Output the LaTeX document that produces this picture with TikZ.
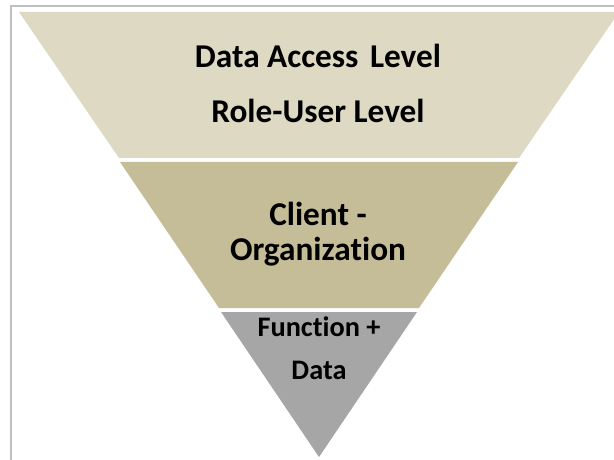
\documentclass[tikz,border=0pt]{standalone}
\usepackage{fontspec}
\setmainfont[Ligatures=NoCommon]{Carlito}
\definecolor{bandA}{HTML}{DDD9C3}
\definecolor{bandB}{HTML}{C4BD97}
\definecolor{bandC}{HTML}{A6A6A6}
\definecolor{framec}{HTML}{BFBFBF}
\begin{document}
\begin{tikzpicture}[x=1bp,y=-1bp,
  lbl/.style={anchor=base,inner sep=0pt,font=\bfseries\fontsize{33.4}{38}\selectfont,text=black},
  lbls/.style={anchor=base,inner sep=0pt,font=\bfseries\fontsize{28.4}{33}\selectfont,text=black}]
\useasboundingbox (0,0) rectangle (614,460);
\clip (0,0) rectangle (614,460);
\fill[white] (0,0) rectangle (614,460);
\draw[framec,line width=2bp] (11,6) rectangle (700,600);
\fill[bandA] (19,12) -- (619,12) -- (519,158) -- (119,158) -- cycle;
\fill[bandB] (120,162) -- (518,162) -- (419,308) -- (219,308) -- cycle;
\fill[bandC] (221,312) -- (417,312) -- (319,457) -- cycle;
\node[lbl] (t1) at (318,68) {Data Access\hspace{0.12em} Level};
\node[lbl] (t2) at (318,123) {Role-User Level};
\node[lbl] (t3) at (318,226) {Client -};
\node[lbl] (t4) at (318,261) {Organization};
\node[lbls] (t5) at (319,336) {Function +};
\node[lbls] (t6) at (319,379) {Data};
\end{tikzpicture}
\end{document}
